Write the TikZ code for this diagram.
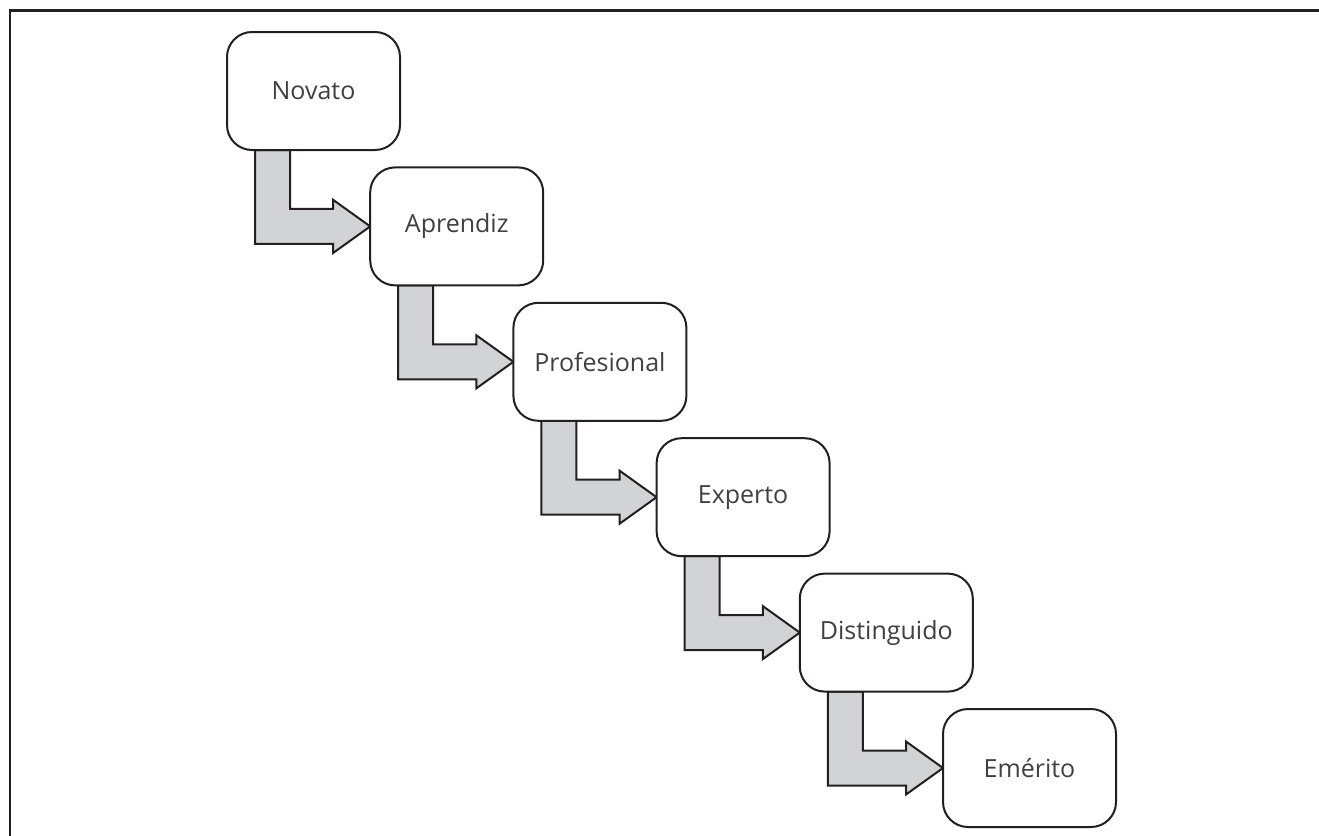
\documentclass[tikz,border=0pt]{standalone}
\usepackage{fontspec}
\setmainfont{Open Sans}
\usetikzlibrary{calc}
\definecolor{arrowgray}{HTML}{D1D3D4}
\definecolor{linec}{HTML}{231F20}
\definecolor{textc}{HTML}{404040}
\tikzset{
  stagebox/.style={draw=linec, line width=2pt, fill=white, rounded corners=25pt,
    minimum width=173pt, minimum height=118pt, outer sep=0pt, inner sep=0pt,
    text=textc, font=\fontsize{25}{29}\selectfont},
  bentarrow/.style={draw=linec, line width=2pt, fill=arrowgray, line join=miter},
  framelines/.style={draw=linec, line width=2.5pt}
}
\begin{document}
\begin{tikzpicture}[x=1pt,y=-1pt]
\useasboundingbox (0,0) rectangle (1319,835);
\draw[framelines] (10,836) -- (10,10.5) -- (1320,10.5);
\foreach \i in {0,...,5}{
  \coordinate (c\i) at ({313.5+143.2*\i},{91+135.4*\i});
}
\foreach \i/\j in {0/1,1/2,2/3,3/4,4/5}{
  \path (c\i) node[stagebox, draw=none, fill=none] (t\i) {};
  \path (c\j) node[stagebox, draw=none, fill=none] (t\j) {};
  \draw[bentarrow] ($(t\i.south west)+(28,0)$) |- ($(t\j.west)+(-37,17.5)$)
     -- ($(t\j.west)+(-37,26.5)$) -- (t\j.west) -- ($(t\j.west)+(-37,-26.5)$)
     -- ($(t\j.west)+(-37,-17.5)$) -| ($(t\i.south west)+(63,0)$) -- cycle;
}
\node[stagebox] (b0) at (c0) {Novato};
\node[stagebox] (b1) at (c1) {Aprendiz};
\node[stagebox] (b2) at (c2) {Profesional};
\node[stagebox] (b3) at (c3) {Experto};
\node[stagebox] (b4) at (c4) {Distinguido};
\node[stagebox] (b5) at (c5) {Emérito};
\end{tikzpicture}
\end{document}
